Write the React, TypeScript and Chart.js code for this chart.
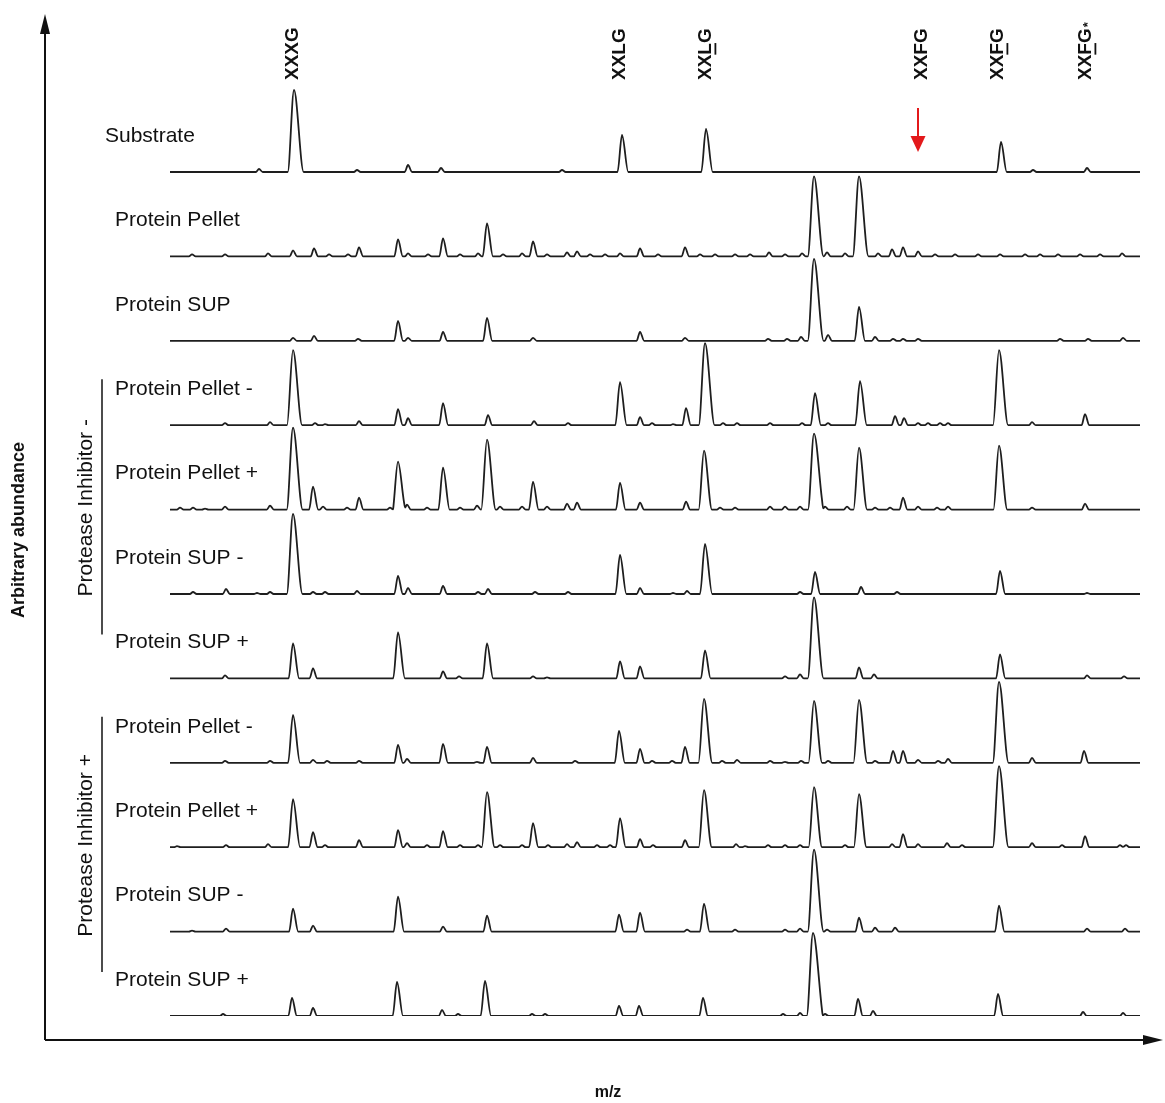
import React, { useEffect, useRef } from "react";
import { Chart, registerables } from "chart.js";
Chart.register(...registerables);

// ---- data (x = relative m/z position, y = arbitrary abundance) ----
const traceNames = [
  "Substrate",
  "Protein Pellet",
  "Protein SUP",
  "Protein Pellet -",
  "Protein Pellet +",
  "Protein SUP -",
  "Protein SUP +",
  "Protein Pellet -",
  "Protein Pellet +",
  "Protein SUP -",
  "Protein SUP +",
];

const peakLabels = ["XXXG", "XXLG", "XXLG", "XXFG", "XXFG", "XXFG"];
const peakLabelPositions = [123, 450, 536, 752, 828, 916];
const peakLabelUnderline = [-1, -1, 2, -1, 2, 2]; // index of underlined character
const peakLabelStar = [false, false, false, false, false, true];
const arrowPosition = 748;

const groupLabels = ["Protease Inhibitor -", "Protease Inhibitor +"];
const groupFirstTrace = [3, 7];
const groupLastTrace = [6, 10];

const substratePeaks = [[89,3],[124,82],[187,2],[238,7],[271,4],[392,2],[452,37],[536,43],[831,30],[863,2],[917,4]];
const pelletPeaks = [[22,2],[55,2],[98,3],[123,6],[144,8],[159,2],[178,2],[189,9],[228,17],[238,3],[258,2],[273,18],[290,2],[308,3],[317,33],[333,2],[352,3],[363,15],[377,2],[397,4],[407,5],[420,2],[435,2],[450,3],[470,8],[488,2],[515,9],[530,2],[545,2],[565,2],[580,2],[599,4],[615,2],[632,3],[644,80],[657,4],[675,3],[689,80],[708,3],[722,7],[733,9],[748,5],[765,2],[785,2],[808,2],[830,2],[855,2],[870,2],[888,2],[910,2],[930,2],[952,3]];
const supPeaks = [[123,3],[144,5],[188,2],[228,20],[238,3],[273,9],[317,23],[363,3],[470,9],[515,3],[598,2],[617,2],[631,4],[644,82],[658,6],[689,34],[705,4],[723,2],[733,2],[748,2],[890,2],[918,2],[953,3]];
const piMinusPelletMinus = [[55,2],[100,3],[123,75],[145,2],[155,1],[189,4],[228,16],[238,7],[273,22],[318,10],[364,4],[398,2],[450,43],[470,8],[482,2],[503,1],[516,17],[535,82],[553,2],[567,2],[600,2],[632,2],[645,32],[658,2],[690,44],[725,9],[734,7],[748,2],[758,2],[770,2],[778,2],[829,75],[862,3],[915,11]];
const piMinusPelletPlus = [[10,2],[23,2],[35,1],[55,3],[100,4],[123,82],[143,23],[153,3],[177,2],[189,12],[220,2],[228,48],[237,5],[257,2],[273,42],[290,2],[307,4],[317,70],[330,3],[352,3],[363,28],[377,3],[397,6],[407,7],[450,27],[470,7],[516,8],[534,59],[550,2],[565,2],[600,3],[615,3],[630,3],[644,76],[655,3],[677,3],[689,62],[705,2],[720,2],[733,12],[748,3],[767,2],[778,3],[829,64],[862,2],[915,6]];
const piMinusSupMinus = [[23,2],[56,5],[87,1],[100,2],[123,80],[143,2],[155,2],[187,3],[228,18],[238,6],[273,8],[308,2],[318,5],[365,2],[398,2],[450,39],[470,6],[503,1],[517,3],[535,50],[630,2],[645,22],[691,7],[727,2],[830,23],[917,1]];
const piMinusSupPlus = [[55,3],[123,35],[143,10],[228,46],[273,7],[289,2],[317,35],[363,2],[377,1],[450,17],[470,12],[535,28],[615,2],[630,4],[644,81],[689,11],[704,4],[830,24],[917,3],[954,2]];
const piPlusPelletMinus = [[55,2],[100,2],[123,48],[143,3],[157,2],[189,2],[228,18],[237,4],[273,19],[307,1],[317,16],[363,5],[405,2],[449,32],[470,14],[482,2],[502,2],[515,16],[534,64],[552,2],[567,3],[600,2],[615,1],[631,2],[644,62],[658,2],[689,63],[705,2],[723,12],[733,12],[748,3],[768,2],[778,4],[829,81],[862,5],[914,12]];
const piPlusPelletPlus = [[7,1],[56,2],[98,3],[123,48],[143,15],[155,2],[189,7],[228,17],[237,4],[257,2],[273,16],[290,2],[308,2],[317,55],[330,2],[352,2],[363,24],[378,2],[397,3],[407,5],[427,2],[440,2],[450,29],[470,8],[483,2],[515,7],[534,57],[566,3],[575,1],[598,2],[615,2],[630,2],[644,60],[675,2],[689,53],[722,3],[733,13],[748,3],[777,4],[792,2],[829,81],[862,4],[892,2],[915,11],[950,2],[956,2]];
const piPlusSupMinus = [[22,1],[56,3],[123,23],[143,6],[228,35],[273,5],[317,16],[449,17],[470,19],[517,2],[534,28],[565,2],[615,2],[630,3],[644,82],[657,2],[689,14],[705,4],[725,4],[829,26],[917,3],[955,3]];
const piPlusSupPlus = [[53,2],[122,18],[143,8],[227,34],[272,6],[288,2],[315,35],[362,2],[375,2],[449,10],[469,10],[533,18],[613,2],[630,3],[643,83],[655,2],[688,17],[703,5],[828,22],[913,4],[953,3]];

const traces = [
  substratePeaks, pelletPeaks, supPeaks,
  piMinusPelletMinus, piMinusPelletPlus, piMinusSupMinus, piMinusSupPlus,
  piPlusPelletMinus, piPlusPelletPlus, piPlusSupMinus, piPlusSupPlus,
];

const X_MIN = 0;
const X_MAX = 970;
const TRACE_GAP = 84.4;
const Y_MAX = 936;

function buildProfile(peaks: number[][], offset: number) {
  const tri = peaks.map(([p, h]) => ({ p, h, l: p - (3 + h * 0.04), r: p + (3.5 + h * 0.075) }));
  const set = new Set<number>([X_MIN, X_MAX]);
  tri.forEach((t) => { set.add(t.l); set.add(t.p); set.add(t.r); });
  const xs = [...set].filter((x) => x >= X_MIN && x <= X_MAX).sort((a, b) => a - b);
  return xs.map((x) => {
    let y = 0;
    for (const t of tri) {
      if (x > t.l && x <= t.p) y += (t.h * (x - t.l)) / (t.p - t.l);
      else if (x > t.p && x < t.r) y += (t.h * (t.r - x)) / (t.r - t.p);
    }
    return { x, y: y + offset };
  });
}

const FONT = "'Liberation Sans', Arial, sans-serif";

const overlayPlugin = {
  id: "overlay",
  afterDraw(chart: any) {
    const ctx: CanvasRenderingContext2D = chart.ctx;
    const xs = chart.scales.x;
    const ys = chart.scales.y;
    const base = (i: number) => ys.getPixelForValue((10 - i) * TRACE_GAP);
    ctx.save();
    ctx.fillStyle = "#111";
    ctx.strokeStyle = "#111";

    // axes with arrows
    ctx.lineWidth = 2;
    ctx.beginPath();
    ctx.moveTo(45, 1040);
    ctx.lineTo(45, 30);
    ctx.moveTo(45, 1040);
    ctx.lineTo(1150, 1040);
    ctx.stroke();
    ctx.beginPath();
    ctx.moveTo(45, 14); ctx.lineTo(40, 34); ctx.lineTo(50, 34); ctx.closePath(); ctx.fill();
    ctx.beginPath();
    ctx.moveTo(1163, 1040); ctx.lineTo(1143, 1035); ctx.lineTo(1143, 1045); ctx.closePath(); ctx.fill();

    // axis titles
    ctx.font = `bold 18px ${FONT}`;
    ctx.textAlign = "center";
    ctx.textBaseline = "middle";
    ctx.save();
    ctx.translate(19, 530);
    ctx.rotate(-Math.PI / 2);
    ctx.fillText("Arbitrary abundance", 0, 0);
    ctx.restore();
    ctx.font = `bold 16px ${FONT}`;
    ctx.fillText("m/z", 608, 1093);

    // trace names
    ctx.font = `21px ${FONT}`;
    ctx.textAlign = "left";
    traceNames.forEach((name, i) => {
      ctx.fillText(name, i === 0 ? 105 : 115, base(i) - 36);
    });

    // group brackets
    ctx.lineWidth = 1.5;
    groupLabels.forEach((g, k) => {
      const top = base(groupFirstTrace[k]) - 46;
      const bot = base(groupLastTrace[k]) - 44;
      ctx.beginPath();
      ctx.moveTo(102, top);
      ctx.lineTo(102, bot);
      ctx.stroke();
      ctx.save();
      ctx.translate(86, (top + bot) / 2 + 1);
      ctx.rotate(-Math.PI / 2);
      ctx.textAlign = "center";
      ctx.font = `21px ${FONT}`;
      ctx.fillText(g, 0, 0);
      ctx.restore();
    });

    // peak labels (rotated, bold)
    peakLabels.forEach((lab, k) => {
      const px = xs.getPixelForValue(peakLabelPositions[k]);
      ctx.save();
      ctx.translate(px, 80);
      ctx.rotate(-Math.PI / 2);
      ctx.font = `bold 19px ${FONT}`;
      ctx.textAlign = "left";
      ctx.textBaseline = "middle";
      ctx.fillText(lab, 0, 0);
      const u = peakLabelUnderline[k];
      if (u >= 0) {
        const x0 = ctx.measureText(lab.slice(0, u)).width;
        const w = ctx.measureText(lab[u]).width;
        ctx.fillRect(x0, 8.5, w, 1.8);
      }
      if (peakLabelStar[k]) {
        const wAll = ctx.measureText(lab).width;
        ctx.font = `bold 13px ${FONT}`;
        ctx.fillText("*", wAll + 1, 2);
      }
      ctx.restore();
    });

    // red arrow
    const ax = xs.getPixelForValue(arrowPosition);
    ctx.strokeStyle = "#e3191b";
    ctx.fillStyle = "#e3191b";
    ctx.lineWidth = 2;
    ctx.beginPath();
    ctx.moveTo(ax, 108);
    ctx.lineTo(ax, 138);
    ctx.stroke();
    ctx.beginPath();
    ctx.moveTo(ax - 7.5, 136); ctx.lineTo(ax + 7.5, 136); ctx.lineTo(ax, 152); ctx.closePath(); ctx.fill();
    ctx.restore();
  },
};

export default function App() {
  const ref = useRef<HTMLCanvasElement | null>(null);
  useEffect(() => {
    document.body.style.margin = "0";
    const canvas = ref.current!;
    const datasets = traces.map((peaks, i) => ({
      label: traceNames[i],
      data: buildProfile(peaks, (10 - i) * TRACE_GAP),
      borderColor: "#1e1e1e",
      borderWidth: 1.8,
      pointRadius: 0,
      fill: false,
      cubicInterpolationMode: "monotone" as const,
    }));
    const chart = new Chart(canvas, {
      type: "line",
      data: { datasets },
      options: {
        responsive: false,
        animation: false,
        parsing: false as any,
        layout: { padding: { left: 170, right: 25, top: 80, bottom: 87 } },
        plugins: { legend: { display: false }, tooltip: { enabled: false } },
        scales: {
          x: { type: "linear", min: X_MIN, max: X_MAX, display: false },
          y: { type: "linear", min: 0, max: Y_MAX, display: false },
        },
      },
      plugins: [overlayPlugin],
    });
    return () => chart.destroy();
  }, []);
  return (
    <div style={{ width: 1165, height: 1103, background: "#fff" }}>
      <canvas ref={ref} width={1165} height={1103} style={{ display: "block" }} />
    </div>
  );
}
